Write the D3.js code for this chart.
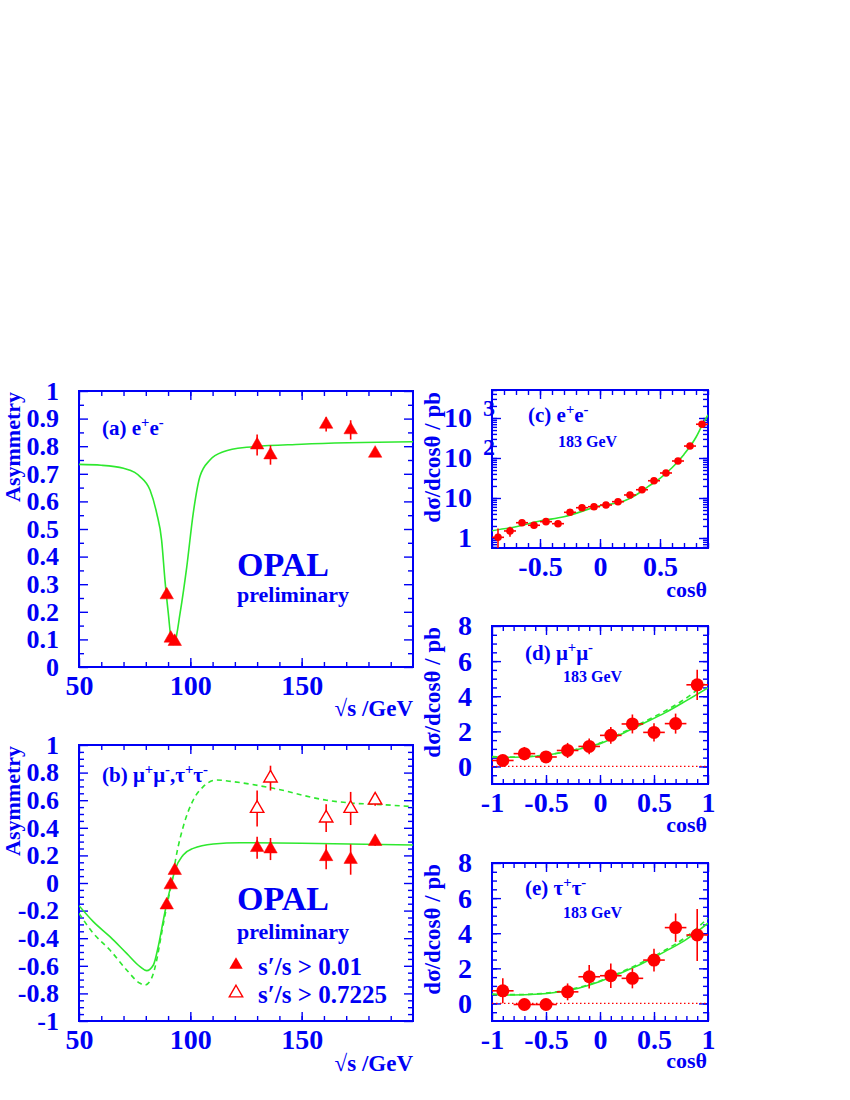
<!DOCTYPE html>
<html>
<head>
<meta charset="utf-8">
<script src="https://cdnjs.cloudflare.com/ajax/libs/d3/7.8.5/d3.min.js"></script>
<style>
  body { margin: 0; background: #fff; }
  svg text { font-family: "Liberation Serif", "Times New Roman", serif; font-weight: bold; fill: #0000f5; }
</style>
</head>
<body>
<script>
// ---- data: asymmetry vs sqrt(s) ----
const energies = [89.4, 91.2, 93.0, 130, 136, 161, 172, 183];
const asymEE = [0.261, 0.104, 0.092, 0.804, 0.768, 0.879, 0.859, 0.774];
const asymEEErr = [0.01, 0.01, 0.01, 0.038, 0.035, 0.026, 0.035, 0.008];

const asymMT = [-0.16, -0.014, 0.09, 0.256, 0.246, 0.19, 0.17, 0.30];
const asymMTErr = [0.01, 0.01, 0.01, 0.08, 0.08, 0.09, 0.11, 0.03];
const energiesHigh = [130, 136, 161, 172, 183];
const asymMTnr = [0.54, 0.76, 0.47, 0.54, 0.60];
const asymMTnrErr = [0.13, 0.09, 0.10, 0.12, 0.04];

// theory curves
const fitEEx = [50, 60, 70, 75, 77.4, 81.9, 84.9, 87.1, 88.6, 90.1, 91.6, 92.3, 93.1, 95.4, 98.4, 101.3, 104.3, 108.8, 114.8, 125.3, 150, 200];
const fitEEy = [0.734, 0.731, 0.72, 0.705, 0.69, 0.641, 0.557, 0.46, 0.315, 0.195, 0.09, 0.082, 0.09, 0.195, 0.363, 0.557, 0.69, 0.75, 0.78, 0.796, 0.807, 0.816];
const fitMTx = [50, 56.4, 63.9, 71.4, 77.4, 80.4, 83.4, 85.6, 87.9, 89.4, 91.6, 93.1, 96.8, 101.3, 110.3, 122.3, 150, 200];
const fitMTy = [-0.164, -0.28, -0.389, -0.51, -0.606, -0.635, -0.594, -0.46, -0.268, -0.147, 0, 0.094, 0.203, 0.251, 0.283, 0.292, 0.288, 0.275];
const fitMTnrx = [50, 56.4, 63.9, 71.4, 77.4, 79.6, 82.6, 84.9, 87.1, 89.4, 91.6, 93.9, 96.8, 101.3, 105.8, 111.8, 119.3, 137.3, 161.2, 173.2, 183.7, 200];
const fitMTnry = [-0.22, -0.364, -0.486, -0.63, -0.727, -0.739, -0.69, -0.558, -0.364, -0.17, 0, 0.215, 0.408, 0.601, 0.698, 0.746, 0.734, 0.686, 0.60, 0.578, 0.57, 0.553];

// ---- data: angular distributions at 183 GeV ----
const cosEE = [-0.85, -0.75, -0.65, -0.55, -0.45, -0.35, -0.25, -0.15, -0.05, 0.05, 0.15, 0.25, 0.35, 0.45, 0.55, 0.65, 0.75, 0.85];
const dsigEE = [1.04, 1.50, 2.41, 2.08, 2.56, 2.28, 4.39, 5.72, 6.06, 6.68, 8.09, 11.9, 16.1, 27.0, 42.2, 84.1, 199, 698];
const dsigEEErr = [0.7, 0.42, 0.35, 0.3, 0.35, 0.3, 0.4, 0.45, 0.45, 0.5, 0.55, 0.8, 1.0, 1.6, 2.2, 3.5, 7, 20];
const fitCx = [-0.9, -0.7, -0.5, -0.3, 0, 0.2, 0.3, 0.4, 0.5, 0.6, 0.7, 0.8, 0.85, 0.9];
const fitCy = [1.52, 1.92, 2.66, 3.4, 6.4, 8.4, 11.9, 19.2, 31, 57, 123, 330, 650, 1200];

const cosMT = [-0.9, -0.7, -0.5, -0.3, -0.1, 0.1, 0.3, 0.5, 0.7, 0.9];
const dsigMM = [0.34, 0.73, 0.54, 0.91, 1.14, 1.77, 2.42, 1.94, 2.44, 4.65];
const dsigMMErr = [0.27, 0.38, 0.3, 0.43, 0.45, 0.48, 0.54, 0.52, 0.57, 0.86];
const dsigTT = [0.72, -0.06, -0.06, 0.66, 1.52, 1.58, 1.43, 2.47, 4.32, 3.90];
const dsigTTErr = [0.71, 0.1, 0.1, 0.48, 0.67, 0.7, 0.57, 0.65, 0.81, 1.48];

const fitDx = [-1, -0.8, -0.6, -0.4, -0.2, 0, 0.2, 0.4, 0.6, 0.8, 1.0];
const fitMMy = [0.54, 0.52, 0.58, 0.74, 0.98, 1.3, 1.85, 2.45, 3.05, 3.75, 4.48];
const fitMMy2 = [0.56, 0.53, 0.59, 0.75, 1.0, 1.33, 1.9, 2.52, 3.15, 3.9, 4.86];
const fitTTy = [0.51, 0.48, 0.52, 0.64, 0.87, 1.25, 1.75, 2.3, 2.95, 3.65, 4.57];
const fitTTy2 = [0.53, 0.5, 0.54, 0.66, 0.9, 1.28, 1.8, 2.37, 3.03, 3.8, 4.86];

// tick labels
const asymTicksA = [0, 0.1, 0.2, 0.3, 0.4, 0.5, 0.6, 0.7, 0.8, 0.9, 1];
const asymTicksB = [-1, -0.8, -0.6, -0.4, -0.2, 0, 0.2, 0.4, 0.6, 0.8, 1];
const energyTicks = [50, 100, 150];
const cosTicksC = [-0.5, 0, 0.5];
const cosTicksD = [-1, -0.5, 0, 0.5, 1];
const dsigTicks = [0, 2, 4, 6, 8];
const logTicks = [1, 10, 100, 1000];

const BLUE = '#0000f5', RED = '#ff0000', GREEN = '#2ee82e';

const svg = d3.select('body').append('svg').attr('width', 850).attr('height', 1100);
let clipId = 0;

function frame(x, y, o) {
  const [xl, xr] = x.range(), [yb, yt] = y.range();
  const g = svg.append('g');
  const tick = size => sel => {
    sel.select('.domain').remove();
    sel.selectAll('line').attr('stroke', BLUE).attr('stroke-width', 1.4);
    sel.selectAll('text').attr('font-size', size).attr('fill', BLUE);
  };
  // major / minor ticks on all four sides, pointing inside
  g.append('g').attr('transform', `translate(0,${yb})`)
    .call(d3.axisBottom(x).tickValues(o.xMajor).tickSize(-9).tickPadding(8).tickFormat(d => String(d))).call(tick(28));
  g.append('g').attr('transform', `translate(0,${yb})`)
    .call(d3.axisBottom(x).tickValues(o.xMinor).tickSize(-5).tickFormat('')).call(tick(28));
  g.append('g').attr('transform', `translate(0,${yt})`)
    .call(d3.axisTop(x).tickValues(o.xMajor).tickSize(-9).tickFormat('')).call(tick(28));
  g.append('g').attr('transform', `translate(0,${yt})`)
    .call(d3.axisTop(x).tickValues(o.xMinor).tickSize(-5).tickFormat('')).call(tick(28));
  g.append('g').attr('transform', `translate(${xl},0)`)
    .call(d3.axisLeft(y).tickValues(o.yMajor).tickSize(-9).tickPadding(20).tickFormat(o.yFmt || (d => String(d)))).call(tick(o.yFont || 28));
  g.append('g').attr('transform', `translate(${xl},0)`)
    .call(d3.axisLeft(y).tickValues(o.yMinor).tickSize(-5).tickFormat('')).call(tick(28));
  g.append('g').attr('transform', `translate(${xr},0)`)
    .call(d3.axisRight(y).tickValues(o.yMajor).tickSize(-9).tickFormat('')).call(tick(28));
  g.append('g').attr('transform', `translate(${xr},0)`)
    .call(d3.axisRight(y).tickValues(o.yMinor).tickSize(-5).tickFormat('')).call(tick(28));
  g.append('rect').attr('x', xl).attr('y', yt).attr('width', xr - xl).attr('height', yb - yt)
    .attr('fill', 'none').attr('stroke', BLUE).attr('stroke-width', 2);

  const id = 'clip' + (clipId++);
  svg.append('clipPath').attr('id', id).append('rect')
    .attr('x', xl).attr('y', yt).attr('width', xr - xl).attr('height', yb - yt);
  return svg.append('g').attr('clip-path', `url(#${id})`);
}

function curve(g, x, y, xs, ys, dash) {
  g.append('path').datum(xs.map((v, i) => [v, ys[i]]))
    .attr('fill', 'none').attr('stroke', GREEN).attr('stroke-width', 1.6)
    .attr('stroke-dasharray', dash || null)
    .attr('d', d3.line().x(d => x(d[0])).y(d => y(d[1])).curve(d3.curveMonotoneX));
}

// text with optional superscripts: parts are strings or {sup: '...'}
function label(x, y, parts, size, anchor) {
  const t = svg.append('text').attr('x', x).attr('y', y).attr('font-size', size)
    .attr('text-anchor', anchor || 'start');
  const up = size * 0.4;
  let raised = false;
  parts.forEach(p => {
    if (typeof p === 'string') {
      t.append('tspan').text(p).attr('dy', raised ? up : null);
      raised = false;
    } else {
      t.append('tspan').text(p.sup).attr('font-size', size * 0.7).attr('dy', raised ? null : -up);
      raised = true;
    }
  });
  return t;
}

function ytitle(x, yTop, text, size) {
  svg.append('text').attr('transform', `translate(${x},${yTop}) rotate(-90)`)
    .attr('text-anchor', 'end').attr('font-size', size || 23).text(text);
}

const triangle = d3.symbol().type(d3.symbolTriangle).size(78);

function triangles(g, x, y, xs, ys, es, open) {
  g.selectAll(null).data(xs).enter().append('line')
    .attr('x1', d => x(d)).attr('x2', d => x(d))
    .attr('y1', (d, i) => y(ys[i] - es[i])).attr('y2', (d, i) => y(ys[i] + es[i]))
    .attr('stroke', RED).attr('stroke-width', 1.6);
  g.selectAll(null).data(xs).enter().append('path')
    .attr('d', triangle)
    .attr('transform', (d, i) => `translate(${x(d)},${y(ys[i])})`)
    .attr('fill', open ? '#fff' : RED).attr('stroke', RED).attr('stroke-width', open ? 1.4 : 0.5);
}

function dots(g, x, y, xs, ys, es, halfW, r) {
  const lo = v => Math.max(v, y.domain()[0]);
  g.selectAll(null).data(xs).enter().append('line')
    .attr('x1', d => x(d - halfW)).attr('x2', d => x(d + halfW))
    .attr('y1', (d, i) => y(ys[i])).attr('y2', (d, i) => y(ys[i]))
    .attr('stroke', RED).attr('stroke-width', 1.6);
  g.selectAll(null).data(xs).enter().append('line')
    .attr('x1', d => x(d)).attr('x2', d => x(d))
    .attr('y1', (d, i) => y(lo(ys[i] - es[i]))).attr('y2', (d, i) => y(ys[i] + es[i]))
    .attr('stroke', RED).attr('stroke-width', 1.6);
  g.selectAll(null).data(xs).enter().append('circle')
    .attr('cx', d => x(d)).attr('cy', (d, i) => y(ys[i])).attr('r', r).attr('fill', RED);
}

// ---------- (a) ----------
const xA = d3.scaleLinear().domain([50, 200]).range([79, 413]);
const yA = d3.scaleLinear().domain([0, 1]).range([667, 391]);
const gA = frame(xA, yA, {
  xMajor: energyTicks, xMinor: d3.range(60, 200, 10),
  yMajor: asymTicksA, yMinor: d3.range(0.05, 1, 0.1), yFont: 26
});
curve(gA, xA, yA, fitEEx, fitEEy);
triangles(gA, xA, yA, energies, asymEE, asymEEErr, false);
ytitle(20, 392, 'Asymmetry', 22);
label(102, 435, ['(a) e', { sup: '+' }, 'e', { sup: '-' }], 21);
label(237, 576, ['OPAL'], 34);
label(237, 602, ['preliminary'], 22);
label(413, 716, ['\u221As /GeV'], 23, 'end');

// ---------- (b) ----------
const xB = d3.scaleLinear().domain([50, 200]).range([79, 413]);
const yB = d3.scaleLinear().domain([-1, 1]).range([1021, 745]);
const gB = frame(xB, yB, {
  xMajor: energyTicks, xMinor: d3.range(60, 200, 10),
  yMajor: asymTicksB, yMinor: d3.range(-0.95, 1, 0.05).filter(v => Math.abs(Math.round(v * 100) % 20) !== 0),
  yFont: 26
});
curve(gB, xB, yB, fitMTnrx, fitMTnry, '5,4');
curve(gB, xB, yB, fitMTx, fitMTy);
triangles(gB, xB, yB, energies, asymMT, asymMTErr, false);
triangles(gB, xB, yB, energiesHigh, asymMTnr, asymMTnrErr, true);
ytitle(20, 746, 'Asymmetry', 22);
label(102, 782, ['(b) \u03BC', { sup: '+' }, '\u03BC', { sup: '-' }, ',\u03C4', { sup: '+' }, '\u03C4', { sup: '-' }], 21);
label(237, 910, ['OPAL'], 34);
label(237, 939, ['preliminary'], 22);
svg.append('path').attr('d', triangle).attr('transform', 'translate(236,965)').attr('fill', RED);
svg.append('path').attr('d', triangle).attr('transform', 'translate(236,993)')
  .attr('fill', '#fff').attr('stroke', RED).attr('stroke-width', 1.4);
label(258, 975, ['s\u2032/s > 0.01'], 25);
label(258, 1003, ['s\u2032/s > 0.7225'], 25);
label(413, 1071, ['\u221As /GeV'], 23, 'end');

// ---------- (c) ----------
const xC = d3.scaleLinear().domain([-0.9, 0.9]).range([492, 708]);
const yC = d3.scaleLog().domain([0.5623, 5012]).range([548, 390]);
const gC = frame(xC, yC, {
  xMajor: cosTicksC, xMinor: d3.range(-0.9, 0.91, 0.1),
  yMajor: logTicks, yMinor: yC.ticks(),
  yFmt: d => d === 1 ? '1' : '10'
});
label(483, yC(100) - 3, ['2'], 24, 'start');
label(483, yC(1000) - 2, ['3'], 24, 'start');
curve(gC, xC, yC, fitCx, fitCy);
dots(gC, xC, yC, cosEE, dsigEE, dsigEEErr, 0.05, 3.8);
ytitle(440, 392, 'd\u03C3/dcos\u03B8 / pb');
label(528, 422, ['(c) e', { sup: '+' }, 'e', { sup: '-' }], 21);
label(558, 447, ['183 GeV'], 16);
label(707, 597, ['cos\u03B8'], 22, 'end');

// ---------- (d) ----------
const xD = d3.scaleLinear().domain([-1, 1]).range([492, 708]);
const yD = d3.scaleLinear().domain([-1, 8]).range([784, 626]);
const gD = frame(xD, yD, {
  xMajor: cosTicksD, xMinor: d3.range(-0.9, 1, 0.1),
  yMajor: dsigTicks, yMinor: d3.range(-0.5, 8, 0.5)
});
gD.append('line').attr('x1', xD(-1)).attr('x2', xD(1)).attr('y1', yD(0)).attr('y2', yD(0))
  .attr('stroke', RED).attr('stroke-width', 1.2).attr('stroke-dasharray', '1.5,2.5');
curve(gD, xD, yD, fitDx, fitMMy2, '5,4');
curve(gD, xD, yD, fitDx, fitMMy);
dots(gD, xD, yD, cosMT, dsigMM, dsigMMErr, 0.1, 6.5);
ytitle(440, 627, 'd\u03C3/dcos\u03B8 / pb');
label(525, 660, ['(d) \u03BC', { sup: '+' }, '\u03BC', { sup: '-' }], 21);
label(563, 682, ['183 GeV'], 16);
label(707, 832, ['cos\u03B8'], 22, 'end');

// ---------- (e) ----------
const xE = d3.scaleLinear().domain([-1, 1]).range([492, 708]);
const yE = d3.scaleLinear().domain([-1, 8]).range([1021, 863]);
const gE = frame(xE, yE, {
  xMajor: cosTicksD, xMinor: d3.range(-0.9, 1, 0.1),
  yMajor: dsigTicks, yMinor: d3.range(-0.5, 8, 0.5)
});
gE.append('line').attr('x1', xE(-1)).attr('x2', xE(1)).attr('y1', yE(0)).attr('y2', yE(0))
  .attr('stroke', RED).attr('stroke-width', 1.2).attr('stroke-dasharray', '1.5,2.5');
curve(gE, xE, yE, fitDx, fitTTy2, '5,4');
curve(gE, xE, yE, fitDx, fitTTy);
dots(gE, xE, yE, cosMT, dsigTT, dsigTTErr, 0.1, 6.5);
ytitle(440, 864, 'd\u03C3/dcos\u03B8 / pb');
label(525, 895, ['(e) \u03C4', { sup: '+' }, '\u03C4', { sup: '-' }], 21);
label(563, 918, ['183 GeV'], 16);
label(707, 1068, ['cos\u03B8'], 22, 'end');
</script>
</body>
</html>
